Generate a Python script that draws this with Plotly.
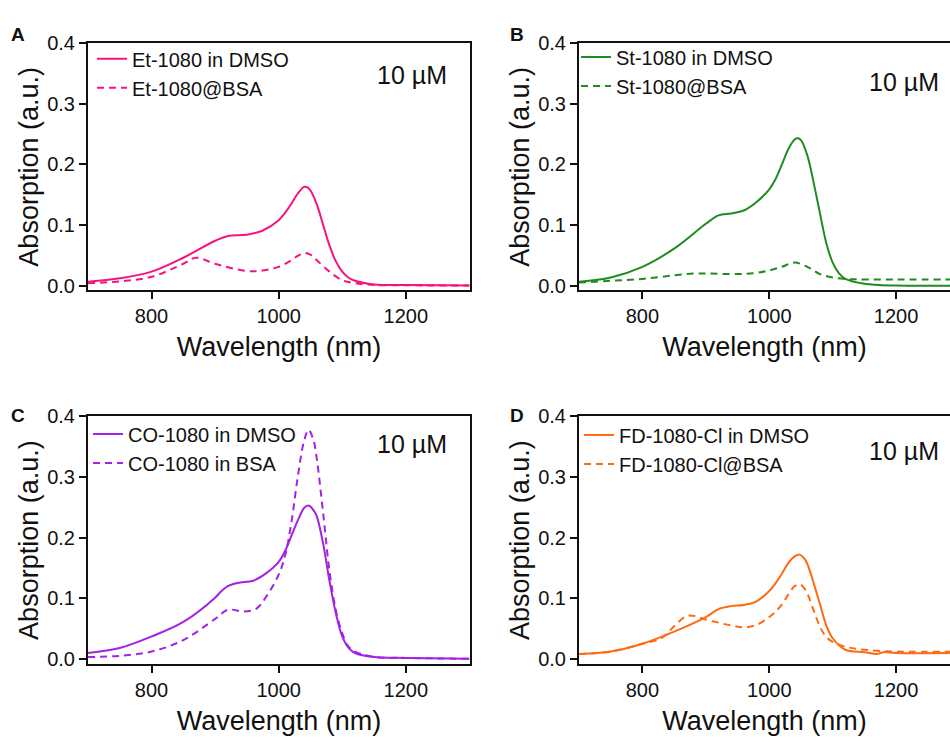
import plotly.graph_objects as go

# ---------------- data ----------------
a_dmso_x = [700, 750, 800, 850, 900, 920, 950, 975, 1000, 1010, 1020, 1030, 1040, 1045, 1050, 1060, 1070, 1080, 1090, 1100, 1110, 1120, 1150, 1200, 1300]
a_dmso_y = [0.0065, 0.012, 0.023, 0.046, 0.074, 0.082, 0.084, 0.091, 0.108, 0.12, 0.135, 0.152, 0.163, 0.162, 0.157, 0.134, 0.1, 0.066, 0.04, 0.023, 0.013, 0.008, 0.002, 0.001, 0.0]
a_bsa_x = [700, 750, 800, 850, 870, 900, 950, 975, 1000, 1020, 1030, 1040, 1050, 1060, 1080, 1100, 1120, 1150, 1200, 1300]
a_bsa_y = [0.004, 0.007, 0.0145, 0.036, 0.046, 0.036, 0.024, 0.025, 0.031, 0.042, 0.049, 0.054, 0.051, 0.042, 0.023, 0.009, 0.004, 0.001, 0.0005, 0.0]

b_dmso_x = [700, 750, 800, 850, 900, 920, 940, 960, 980, 1000, 1010, 1020, 1030, 1040, 1045, 1050, 1060, 1070, 1080, 1090, 1100, 1110, 1120, 1150, 1200, 1300]
b_dmso_y = [0.0065, 0.0135, 0.031, 0.061, 0.102, 0.116, 0.119, 0.124, 0.138, 0.159, 0.176, 0.2, 0.225, 0.241, 0.243, 0.24, 0.215, 0.17, 0.119, 0.07, 0.038, 0.02, 0.011, 0.003, 0.0, 0.0]
b_bsa_x = [700, 750, 800, 850, 880, 900, 950, 980, 1000, 1020, 1040, 1060, 1080, 1100, 1120, 1200, 1300]
b_bsa_y = [0.005, 0.008, 0.011, 0.017, 0.02, 0.02, 0.019, 0.021, 0.025, 0.031, 0.038, 0.031, 0.019, 0.0135, 0.011, 0.01, 0.01]

c_dmso_x = [700, 750, 800, 850, 900, 910, 920, 930, 940, 960, 980, 1000, 1010, 1020, 1030, 1040, 1047, 1055, 1060, 1070, 1080, 1090, 1100, 1110, 1120, 1150, 1200, 1300]
c_dmso_y = [0.0097, 0.018, 0.037, 0.061, 0.101, 0.112, 0.12, 0.124, 0.126, 0.129, 0.141, 0.16, 0.178, 0.203, 0.228, 0.249, 0.253, 0.245, 0.235, 0.19, 0.128, 0.075, 0.037, 0.018, 0.0097, 0.003, 0.0016, 0.0]
c_bsa_x = [700, 750, 800, 850, 900, 920, 945, 965, 980, 1000, 1010, 1020, 1030, 1040, 1047, 1055, 1060, 1070, 1080, 1090, 1100, 1110, 1120, 1150, 1200, 1300]
c_bsa_y = [0.003, 0.005, 0.012, 0.031, 0.066, 0.081, 0.078, 0.083, 0.102, 0.139, 0.17, 0.225, 0.3, 0.36, 0.378, 0.36, 0.33, 0.24, 0.144, 0.08, 0.042, 0.02, 0.012, 0.003, 0.0016, 0.0]

d_dmso_x = [700, 750, 800, 850, 900, 920, 940, 960, 980, 1000, 1010, 1020, 1030, 1040, 1048, 1055, 1060, 1070, 1080, 1090, 1100, 1120, 1150, 1170, 1180, 1200, 1300]
d_dmso_y = [0.008, 0.012, 0.025, 0.045, 0.069, 0.082, 0.087, 0.089, 0.095, 0.112, 0.125, 0.141, 0.158, 0.169, 0.172, 0.166, 0.157, 0.125, 0.09, 0.055, 0.034, 0.015, 0.011, 0.008, 0.011, 0.0097, 0.0097]
d_bsa_x = [700, 750, 800, 830, 850, 870, 880, 900, 940, 960, 980, 1000, 1010, 1020, 1030, 1040, 1048, 1055, 1060, 1070, 1080, 1090, 1100, 1120, 1150, 1200, 1300]
d_bsa_y = [0.008, 0.012, 0.025, 0.034, 0.054, 0.071, 0.071, 0.065, 0.055, 0.052, 0.056, 0.069, 0.078, 0.09, 0.106, 0.12, 0.123, 0.117, 0.108, 0.08, 0.053, 0.036, 0.028, 0.02, 0.015, 0.012, 0.012]

panel_letters = ["A", "B", "C", "D"]
series_names = [
    ("Et-1080 in DMSO", "Et-1080@BSA"),
    ("St-1080 in DMSO", "St-1080@BSA"),
    ("CO-1080 in DMSO", "CO-1080 in BSA"),
    ("FD-1080-Cl in DMSO", "FD-1080-Cl@BSA"),
]
colors = ["#F5137F", "#1E8C1E", "#A421E6", "#FF6A12"]
conc_label = "10 µM"
x_ticks = [800, 1000, 1200]
y_ticks = [0.0, 0.1, 0.2, 0.3, 0.4]

data = [
    (a_dmso_x, a_dmso_y, a_bsa_x, a_bsa_y),
    (b_dmso_x, b_dmso_y, b_bsa_x, b_bsa_y),
    (c_dmso_x, c_dmso_y, c_bsa_x, c_bsa_y),
    (d_dmso_x, d_dmso_y, d_bsa_x, d_bsa_y),
]

# ---------------- layout geometry (pixels) ----------------
W, H = 950, 742
FONT = "Liberation Sans, Arial, sans-serif"

def px_x(p):
    return p / W

def px_y(p):
    return 1 - p / H

# plot areas: (left, right, top, bottom) in px
areas = [
    (88, 470, 33, 286),
    (579, 950, 33, 286),
    (88, 470, 415, 668),
    (579, 950, 415, 668),
]
x_ranges = [[700, 1301], [700, 1285], [700, 1301], [700, 1285]]
y_range = [-0.008, 0.4]

legend_pos = [(92, 29), (576, 27), (88, 413), (579, 414)]
conc_pos = [(412, 65), (904, 73), (412, 443), (904, 450)]
letter_pos = [(18, 24), (517, 24), (18, 414), (517, 414)]

fig = go.Figure()

for i in range(4):
    ax = "" if i == 0 else str(i + 1)
    xs1, ys1, xs2, ys2 = data[i]
    lg = "legend" if i == 0 else f"legend{i + 1}"
    fig.add_trace(go.Scatter(
        x=xs1, y=ys1, mode="lines", name=series_names[i][0],
        line=dict(color=colors[i], width=2, shape="spline", smoothing=1.0),
        xaxis="x" + ax, yaxis="y" + ax, legend=lg,
    ))
    fig.add_trace(go.Scatter(
        x=xs2, y=ys2, mode="lines", name=series_names[i][1],
        line=dict(color=colors[i], width=2, dash="7px,5px", shape="spline", smoothing=1.0),
        xaxis="x" + ax, yaxis="y" + ax, legend=lg,
    ))

layout = dict(
    width=W, height=H,
    margin=dict(l=0, r=0, t=0, b=0),
    paper_bgcolor="white", plot_bgcolor="white",
    font=dict(family=FONT, color="#111111"),
    annotations=[],
)

for i in range(4):
    l, r, t, b = areas[i]
    ax = "" if i == 0 else str(i + 1)
    right_panel = i in (1, 3)
    layout["xaxis" + ax] = dict(
        domain=[px_x(l), px_x(r)], range=x_ranges[i],
        anchor="y" + ax,
        tickvals=x_ticks, ticks="outside", ticklen=7, tickwidth=2, tickcolor="#111",
        showline=True, linewidth=2, linecolor="#111", mirror=True,
        showgrid=False, zeroline=False,
        tickfont=dict(size=20, family=FONT, color="#111"),
        title=dict(text="Wavelength (nm)", font=dict(size=27, family=FONT, color="#111"), standoff=11),
    )
    layout["yaxis" + ax] = dict(
        domain=[px_y(b), px_y(t)], range=y_range,
        anchor="x" + ax,
        tickvals=y_ticks, tickformat=".1f", ticks="outside", ticklen=7, tickwidth=2, tickcolor="#111",
        showline=True, linewidth=2, linecolor="#111", mirror=False if right_panel else True,
        showgrid=False, zeroline=False,
        tickfont=dict(size=20, family=FONT, color="#111"),
        title=dict(text="Absorption (a.u.)", font=dict(size=27, family=FONT, color="#111"), standoff=1),
    )
    lx, ly = legend_pos[i]
    layout["legend" if i == 0 else f"legend{i + 1}"] = dict(
        x=px_x(lx), y=px_y(ly), xanchor="left", yanchor="top",
        xref="paper", yref="paper",
        bgcolor="rgba(0,0,0,0)", borderwidth=0,
        font=dict(size=20, family=FONT, color="#111"),
        itemwidth=30, tracegroupgap=0,
    )
    cx, cy = conc_pos[i]
    layout["annotations"].append(dict(
        x=px_x(cx), y=px_y(cy), xref="paper", yref="paper",
        text=conc_label, showarrow=False, xanchor="center", yanchor="middle",
        font=dict(size=25, family=FONT, color="#111"),
    ))
    tx, ty = letter_pos[i]
    layout["annotations"].append(dict(
        x=px_x(tx), y=px_y(ty), xref="paper", yref="paper",
        text="<b>" + panel_letters[i] + "</b>", showarrow=False, xanchor="center", yanchor="middle",
        font=dict(size=19, family=FONT, color="#111"),
    ))

fig.update_layout(**layout)
fig.write_html("out.html")
